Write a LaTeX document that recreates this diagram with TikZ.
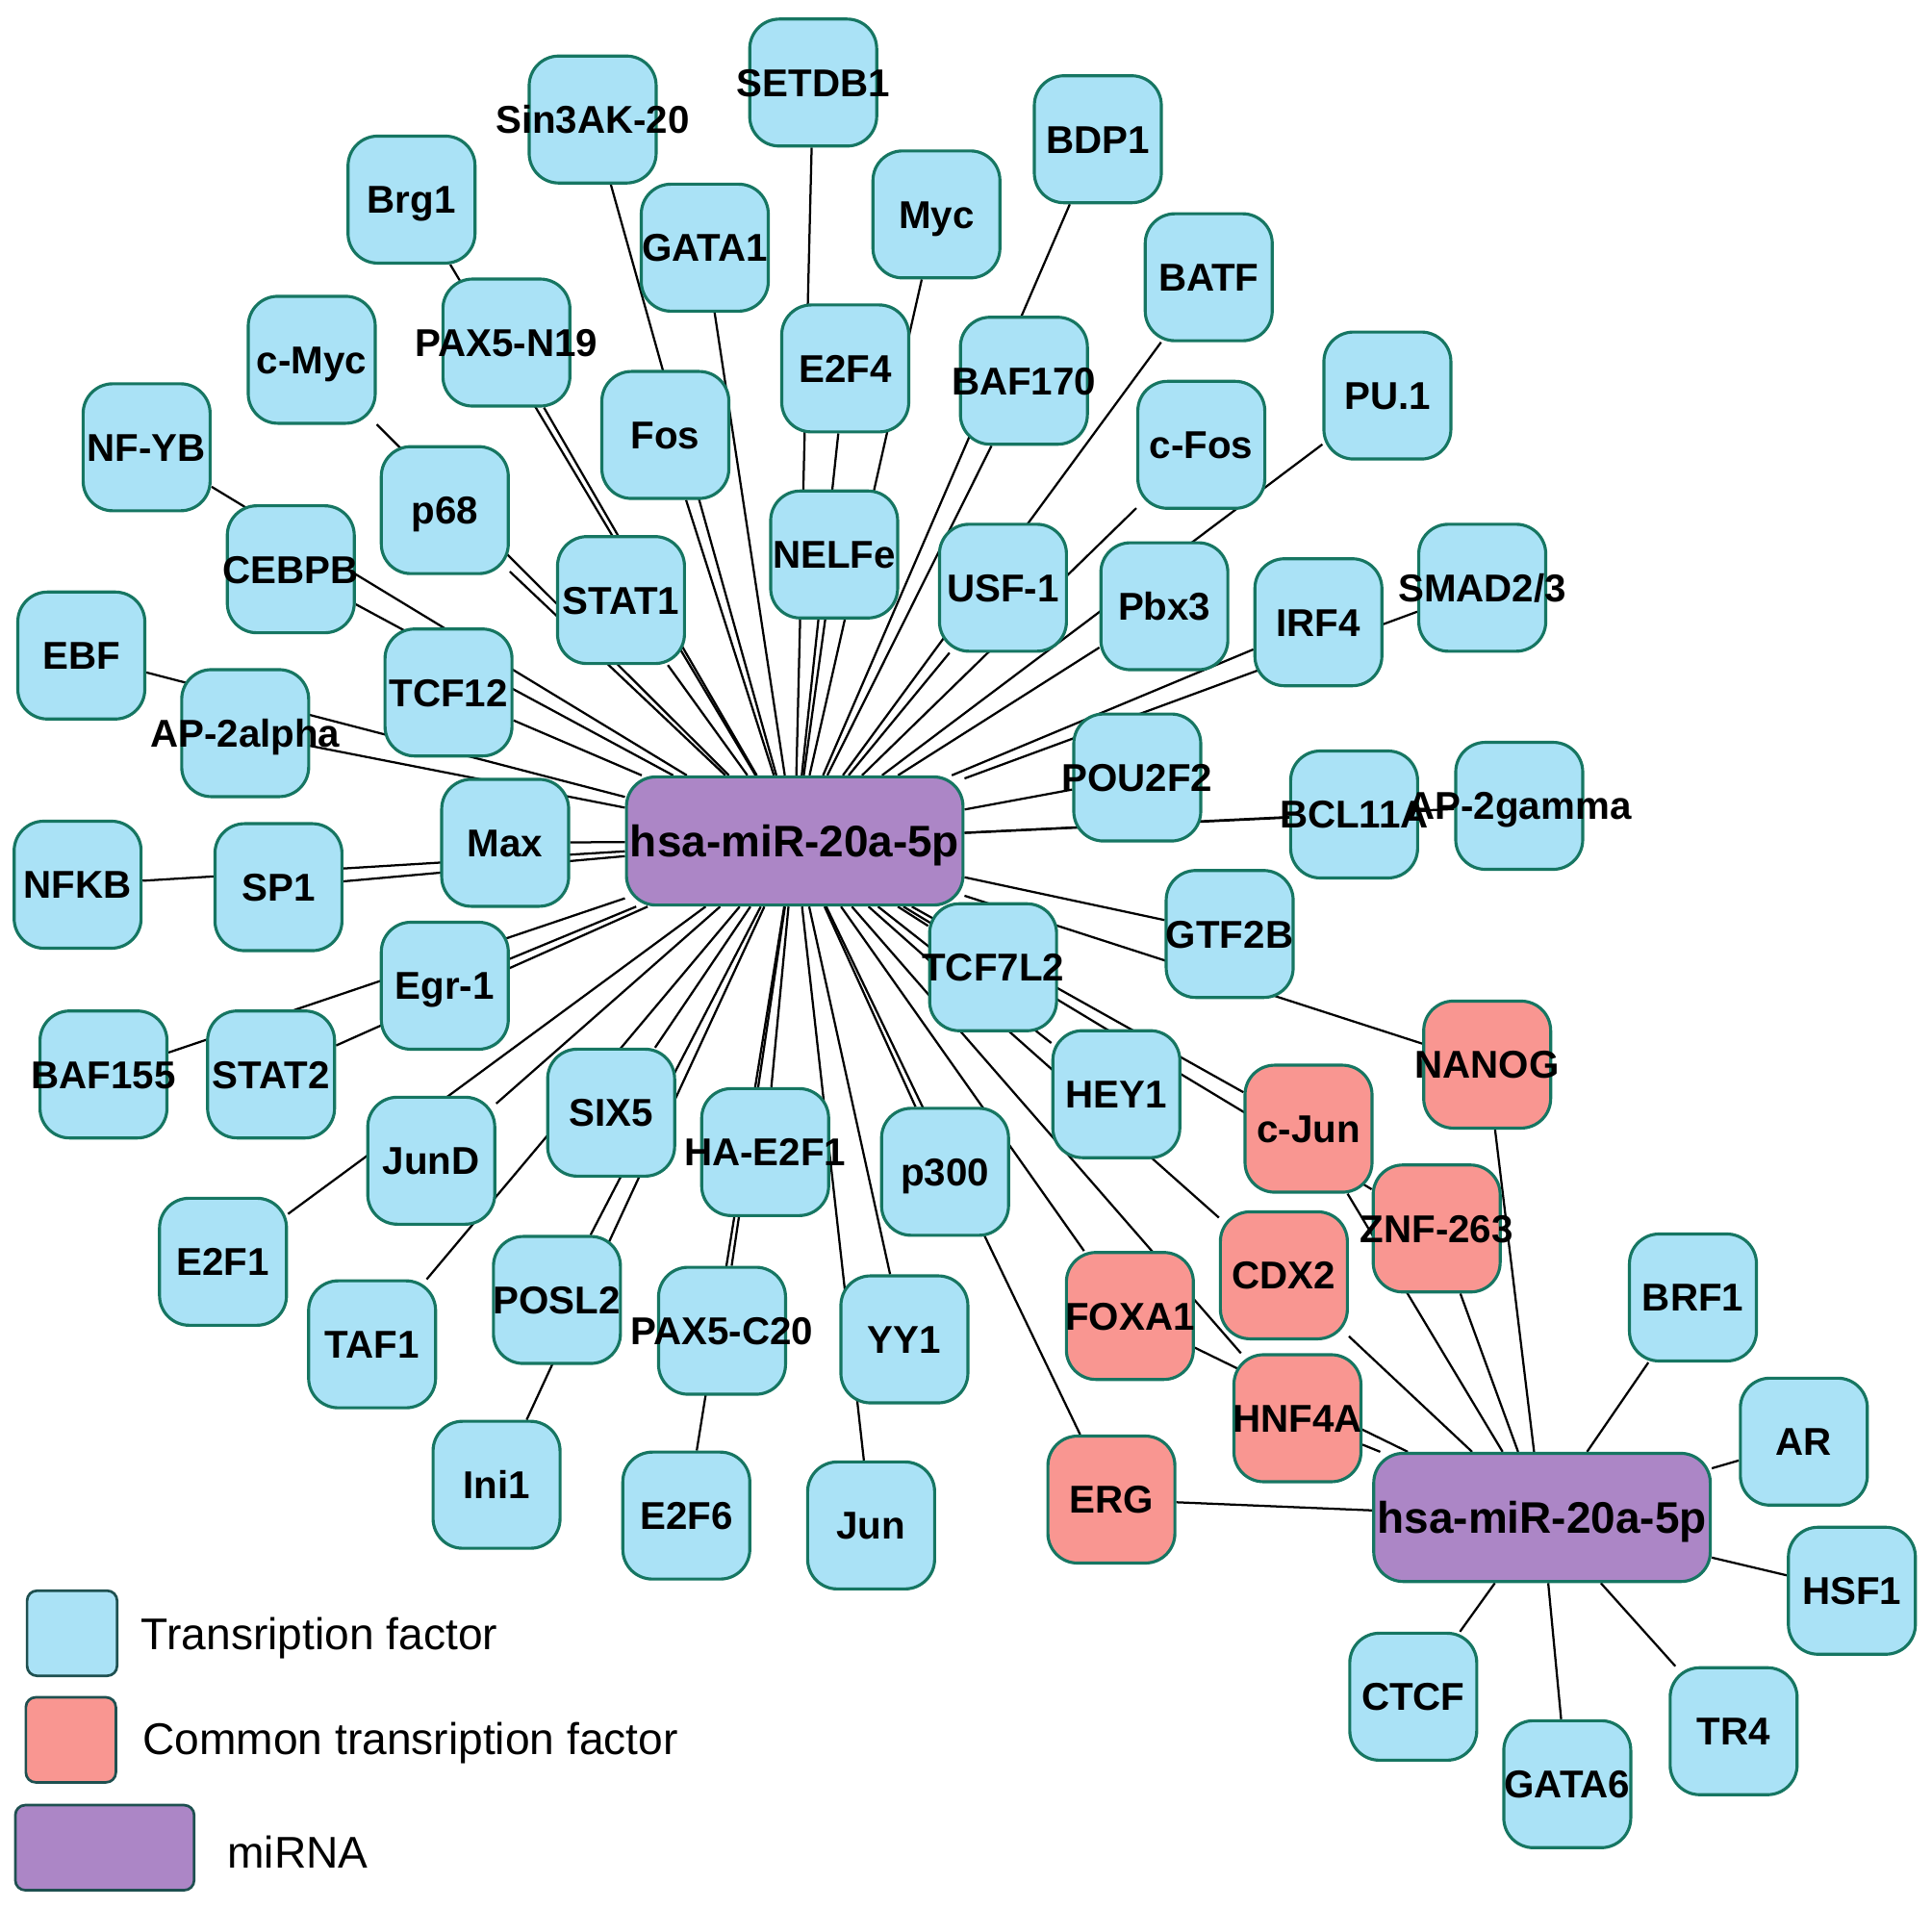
\documentclass[tikz,border=0pt]{standalone}
\usepackage{fontspec}
\setmainfont{Liberation Sans}
\usetikzlibrary{backgrounds}
\definecolor{tfblue}{RGB}{170,226,246}
\definecolor{cmred}{RGB}{249,150,145}
\definecolor{mipurple}{RGB}{172,134,198}
\definecolor{bord}{RGB}{22,118,98}
\definecolor{legbord}{RGB}{30,80,80}
\begin{document}
\begin{tikzpicture}[x=0.01cm,y=-0.01cm,
  tf/.style={draw=bord, fill=tfblue, line width=0.7pt, rounded corners=0.24cm, minimum width=1.03cm, minimum height=1.03cm, inner sep=0pt},
  ctf/.style={tf, fill=cmred},
  mi/.style={draw=bord, fill=mipurple, line width=0.7pt, rounded corners=0.24cm, minimum width=2.73cm, minimum height=1.04cm, inner sep=0pt, font=\fontsize{10.2}{12}\selectfont\bfseries, text height=7.3pt, text depth=0pt},
  lbl/.style={font=\fontsize{8.95}{10}\selectfont\bfseries, inner sep=0pt, text height=6.4pt, text depth=0pt},
  edge/.style={line width=0.5pt, draw=black},
  legbox/.style={draw=legbord, line width=0.6pt, rounded corners=0.08cm, minimum width=0.73cm, minimum height=0.69cm, inner sep=0pt},
  legtext/.style={font=\fontsize{10.25}{12}\selectfont, inner sep=0pt, anchor=base west}]
\useasboundingbox (0,0) rectangle (1568,1548);
\def\listA{setdb1/660/67/SETDB1, sin3a/481/97/Sin3AK-20, brg1/334/162/Brg1, bdp1/891/113/BDP1, myc/760/174/Myc, gata1/572/201/GATA1, batf/981/225/BATF, e2f4/686/299/E2F4, pax5n/411/278/PAX5-N19, cmyc/253/292/c-Myc, baf170/831/309/BAF170, pu1/1126/321/PU.1, fos/540/353/Fos, nfyb/119/363/NF-YB, cfos/975/361/c-Fos, p68/361/414/p68, nelfe/677/450/NELFe, cebpb/236/462/CEBPB, usf1/814/477/USF-1, stat1/504/487/STAT1, pbx3/945/492/Pbx3, smad/1203/477/{SMAD2/3}, irf4/1070/505/IRF4, ebf/66/532/EBF, tcf12/364/562/TCF12, ap2a/199/595/AP-2alpha, pou2f2/923/631/POU2F2, bcl11a/1099/661/BCL11A, ap2g/1233/654/AP-2gamma, max/410/684/Max, nfkb/63/718/NFKB, sp1/226/720/SP1, gtf2b/998/758/GTF2B, tcf7l2/806/785/TCF7L2, egr1/361/800/Egr-1, baf155/84/872/BAF155, stat2/220/872/STAT2, hey1/906/888/HEY1, six5/496/903/SIX5, jund/350/942/JunD, hae2f1/621/935/HA-E2F1, p300/767/951/p300, e2f1/181/1024/E2F1, taf1/302/1091/TAF1, posl2/452/1055/POSL2, pax5c/586/1080/PAX5-C20, yy1/734/1087/YY1, ini1/403/1205/Ini1, e2f6/557/1230/E2F6, jun/707/1238/Jun}
\def\listB{brf1/1374/1053/BRF1, ar/1464/1170/AR, hsf1/1503/1291/HSF1, ctcf/1147/1377/CTCF, tr4/1407/1405/TR4, gata6/1272/1448/GATA6}
\def\listC{nanog/1207/864/NANOG, cjun/1062/916/c-Jun, znf/1166/997/ZNF-263, cdx2/1042/1035/CDX2, foxa1/917/1068/FOXA1, hnf4a/1053/1151/HNF4A, erg/902/1217/ERG}
% boxes
\foreach \n/\x/\y/\t in \listA {\node[tf] (\n) at (\x,\y) {};}
\foreach \n/\x/\y/\t in \listB {\node[tf] (\n) at (\x,\y) {};}
\foreach \n/\x/\y/\t in \listC {\node[ctf] (\n) at (\x,\y) {};}
\node[mi] (m1) at (645,682.5) {hsa-miR-20a-5p};
\node[mi] (m2) at (1251.5,1231.5) {hsa-miR-20a-5p};
% edges
\begin{scope}[on background layer]
\foreach \n/\x/\y/\t in \listA {\draw[edge] (m1) -- (\n);}
\foreach \n/\x/\y/\t in \listB {\draw[edge] (m2) -- (\n);}
\foreach \n/\x/\y/\t in \listC {\draw[edge] (m1) -- (\n); \draw[edge] (m2) -- (\n);}
\end{scope}
% labels
\foreach \n/\x/\y/\t in \listA {\node[lbl] (l-\n) at (\n) {\t};}
\foreach \n/\x/\y/\t in \listB {\node[lbl] (l-\n) at (\n) {\t};}
\foreach \n/\x/\y/\t in \listC {\node[lbl] (l-\n) at (\n) {\t};}
% legend
\node[legbox, fill=tfblue] (lg1) at (58.5,1325.5) {};
\node[legbox, fill=cmred] (lg2) at (57.5,1412) {};
\node[legbox, fill=mipurple, minimum width=1.45cm] (lg3) at (85,1499.5) {};
\node[legtext] (lt1) at (114,1339) {Transription factor};
\node[legtext] (lt2) at (115,1424) {Common transription factor};
\node[legtext] (lt3) at (184,1516) {miRNA};
\end{tikzpicture}
\end{document}
